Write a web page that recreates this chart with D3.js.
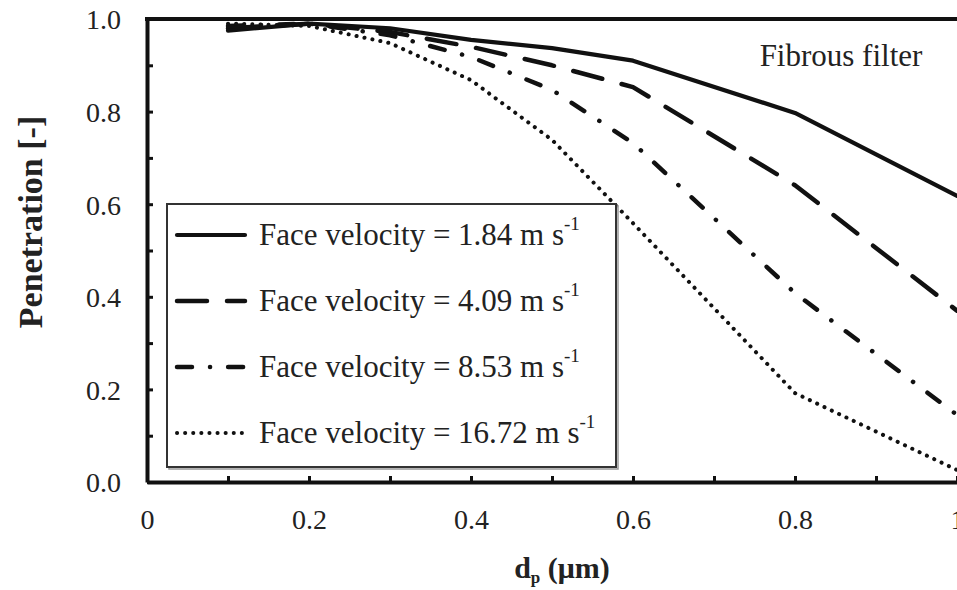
<!DOCTYPE html>
<html>
<head>
<meta charset="utf-8">
<script src="https://cdn.jsdelivr.net/npm/d3@7"></script>
<style>
  body { margin: 0; background: #fff; }
  svg { display: block; font-family: "Liberation Serif", "Times New Roman", serif; }
  .axis path, .axis line { stroke: #111; }
</style>
</head>
<body>
<svg id="chart" width="957" height="590"></svg>
<script>
// particle diameter (um) and penetration for each face velocity
const diameters = [0.1, 0.2, 0.3, 0.4, 0.5, 0.6, 0.8, 1.0];
const pen184 = [0.975, 0.99, 0.98, 0.955, 0.937, 0.91, 0.797, 0.618];
const pen409 = [0.98, 0.99, 0.972, 0.94, 0.90, 0.853, 0.641, 0.37];
const pen853 = [0.985, 0.99, 0.965, 0.918, 0.847, 0.732, 0.408, 0.145];
const pen1672 = [0.99, 0.985, 0.948, 0.868, 0.739, 0.559, 0.192, 0.026];

const velocityLabels = ['1.84', '4.09', '8.53', '16.72'];
const xTicks = [0, 0.1, 0.2, 0.3, 0.4, 0.5, 0.6, 0.7, 0.8, 0.9, 1.0];
const yTicks = [0, 0.1, 0.2, 0.3, 0.4, 0.5, 0.6, 0.7, 0.8, 0.9, 1.0];

const FONT = '"Liberation Serif", "Times New Roman", serif';
const LEFT_PX = 147;
const RIGHT_PX = 957;
const TOP_PX = 19;
const BOTTOM_PX = 482;
const TICK_PX = 6;

// line styles, same order as the series
const DASHES = ['none', '30 20', '15 18 0.1 18', '0.1 8'];
const WIDTHS = [4.2, 4.5, 4.5, 4];

const svg = d3.select('#chart');

const x = d3.scaleLinear().domain([0, 1]).range([LEFT_PX, RIGHT_PX]);
const y = d3.scaleLinear().domain([0, 1]).range([BOTTOM_PX, TOP_PX]);

const series = [pen184, pen409, pen853, pen1672].map((vals, i) => ({
  label: velocityLabels[i],
  points: diameters.map((d, j) => [d, vals[j]])
}));

const line = d3.line()
  .x(d => x(d[0]))
  .y(d => y(d[1]));

// axes with inward ticks, labels on every other tick
const xAxis = d3.axisBottom(x)
  .tickValues(xTicks)
  .tickSizeInner(-TICK_PX)
  .tickSizeOuter(0)
  .tickPadding(27)
  .tickFormat((d, i) => i % 2 ? '' : (d === 0 || d === 1 ? String(d) : d.toFixed(1)));

const yAxis = d3.axisLeft(y)
  .tickValues(yTicks)
  .tickSizeInner(-TICK_PX)
  .tickSizeOuter(0)
  .tickPadding(26)
  .tickFormat((d, i) => i % 2 ? '' : d.toFixed(1));

function styleAxis(g) {
  g.attr('font-family', FONT).attr('font-size', 28);
  g.select('.domain').attr('stroke-width', 4);
  g.selectAll('.tick line').attr('stroke-width', 3);
  g.selectAll('.tick text')
    .attr('font-family', FONT)
    .attr('font-size', 28)
    .attr('fill', '#222');
}

const gx = svg.append('g')
  .attr('class', 'axis')
  .attr('transform', `translate(0,${BOTTOM_PX})`)
  .call(xAxis)
  .call(styleAxis);

const gy = svg.append('g')
  .attr('class', 'axis')
  .attr('transform', `translate(${LEFT_PX},0)`)
  .call(yAxis)
  .call(styleAxis);
gy.selectAll('.tick text').attr('dy', '0.35em');

// top frame line
svg.append('line')
  .attr('x1', LEFT_PX - 2)
  .attr('x2', RIGHT_PX)
  .attr('y1', TOP_PX)
  .attr('y2', TOP_PX)
  .attr('stroke', '#111')
  .attr('stroke-width', 4);

// curves
svg.append('g')
  .selectAll('path')
  .data(series)
  .join('path')
  .attr('d', d => line(d.points))
  .attr('fill', 'none')
  .attr('stroke', '#111')
  .attr('stroke-width', (d, i) => WIDTHS[i])
  .attr('stroke-dasharray', (d, i) => DASHES[i])
  .attr('stroke-linecap', 'round')
  .attr('stroke-linejoin', 'round');

// annotation
svg.append('text')
  .attr('x', 841)
  .attr('y', 66)
  .attr('text-anchor', 'middle')
  .attr('font-size', 31)
  .attr('fill', '#222')
  .text('Fibrous filter');

// legend
const LEGEND_X = 167;
const LEGEND_Y = 204;
const LEGEND_W = 449;
const LEGEND_H = 263;
const ROW_PX = 66;

svg.append('rect')
  .attr('x', LEGEND_X + 2)
  .attr('y', LEGEND_Y + 2)
  .attr('width', LEGEND_W)
  .attr('height', LEGEND_H)
  .attr('fill', 'none')
  .attr('stroke', '#999')
  .attr('stroke-width', 1.5);

svg.append('rect')
  .attr('x', LEGEND_X)
  .attr('y', LEGEND_Y)
  .attr('width', LEGEND_W)
  .attr('height', LEGEND_H)
  .attr('fill', '#fff')
  .attr('stroke', '#333')
  .attr('stroke-width', 2);

const rows = svg.append('g')
  .selectAll('g')
  .data(series)
  .join('g')
  .attr('transform', (d, i) => `translate(${LEGEND_X},${LEGEND_Y + 31 + i * ROW_PX})`);

rows.append('line')
  .attr('x1', 10)
  .attr('x2', 78)
  .attr('stroke', '#111')
  .attr('stroke-width', (d, i) => WIDTHS[i])
  .attr('stroke-dasharray', (d, i) => DASHES[i])
  .attr('stroke-linecap', 'round');

const label = rows.append('text')
  .attr('x', 92)
  .attr('y', 10)
  .attr('font-size', 31)
  .attr('fill', '#222');

label.append('tspan').text(d => `Face velocity = ${d.label} m s`);
label.append('tspan')
  .attr('dy', -15)
  .attr('font-size', 19)
  .text('-1');

// axis titles
svg.append('text')
  .attr('transform', 'translate(42,222) rotate(-90)')
  .attr('text-anchor', 'middle')
  .attr('font-size', 34)
  .attr('font-weight', 'bold')
  .attr('fill', '#222')
  .text('Penetration [-]');

const xt = svg.append('text')
  .attr('x', 562)
  .attr('y', 578)
  .attr('text-anchor', 'middle')
  .attr('font-size', 30)
  .attr('font-weight', 'bold')
  .attr('fill', '#222');
xt.append('tspan').text('d');
xt.append('tspan').attr('font-size', 17).attr('dy', 5).text('p');
xt.append('tspan').attr('dy', -5).text(' (\u03bcm)');
</script>
</body>
</html>
